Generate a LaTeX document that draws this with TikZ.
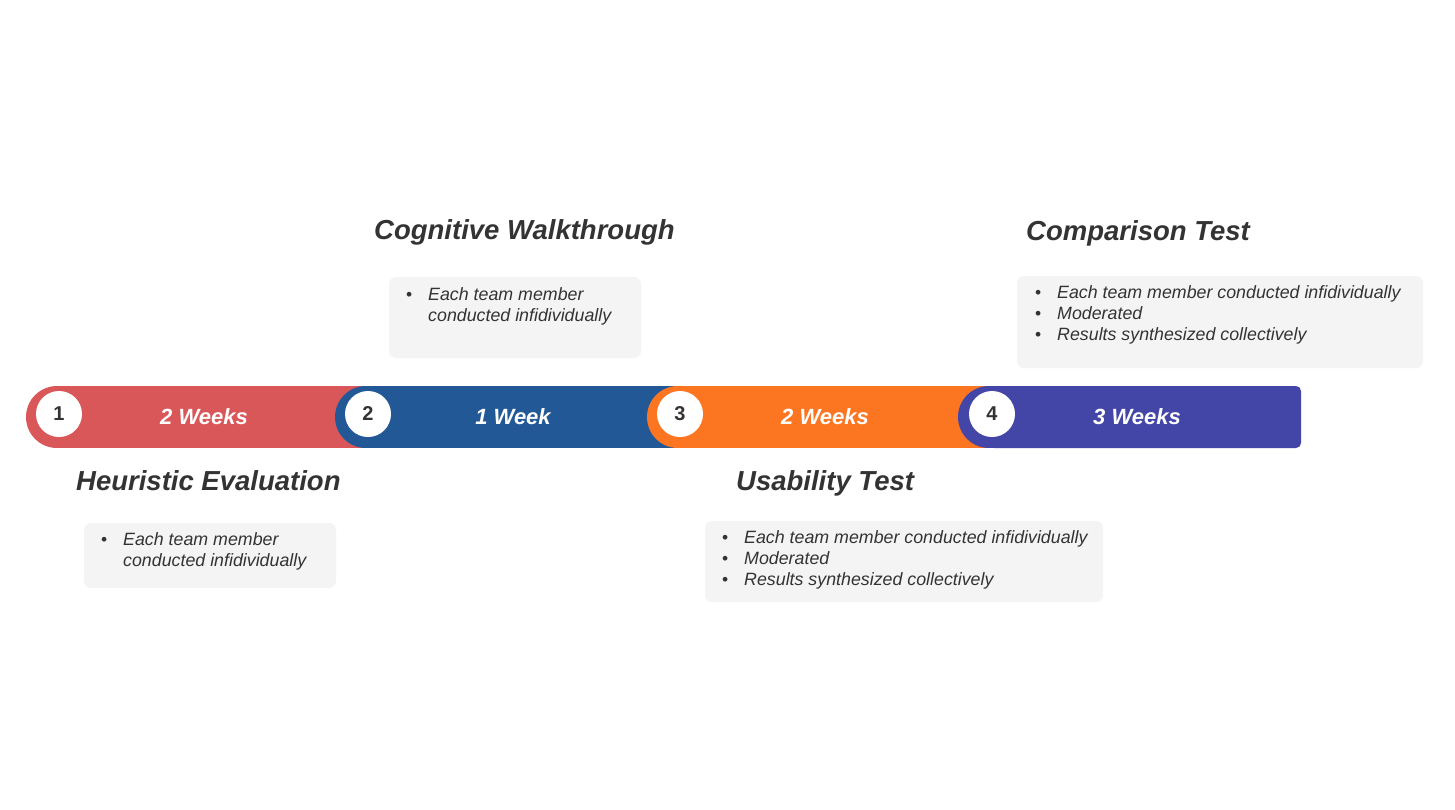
\documentclass[tikz,border=0pt]{standalone}
\usepackage{fontspec}
\setmainfont{Liberation Sans}
\begin{document}
\begin{tikzpicture}[x=1pt,y=-1pt]
\definecolor{cRed}{RGB}{217,87,89}
\definecolor{cBlue}{RGB}{35,88,150}
\definecolor{cOrange}{RGB}{252,118,33}
\definecolor{cPurple}{RGB}{67,69,167}
\definecolor{cBox}{RGB}{244,244,244}
\definecolor{cText}{RGB}{51,51,51}
\tikzset{
  numcircle/.style={circle,fill=white,minimum size=46pt,inner sep=0pt,text=cText,font=\fontsize{20}{20}\selectfont\bfseries},
  weeklabel/.style={anchor=base,text=white,inner sep=0pt,font=\fontsize{22}{22}\selectfont\bfseries\itshape},
  titlelabel/.style={anchor=base west,text=cText,inner sep=0pt,font=\fontsize{27.5}{27.5}\selectfont\bfseries\itshape},
  itemline/.style={anchor=base west,text=cText,inner sep=0pt,font=\fontsize{17.8}{21}\selectfont\itshape},
  bulletmark/.style={anchor=base west,text=cText,inner sep=0pt,font=\fontsize{17.5}{21}\selectfont},
  infobox/.style={fill=cBox,rounded corners=7pt}
}
\useasboundingbox (0,0) rectangle (1455,809);
\fill[white] (0,0) rectangle (1455,809);

% bar segments
\fill[cRed] (57,417) circle (31);
\fill[cRed] (57,386) rectangle (366,448);
\fill[cBlue] (366,417) circle (31);
\fill[cBlue] (366,386) rectangle (680,448);
\fill[cOrange] (678,417) circle (31);
\fill[cOrange] (678,386) rectangle (992,448);
\fill[cPurple] (989,417) circle (31);
\fill[cPurple,rounded corners=5pt] (989,386) rectangle (1301,448);
\fill[cPurple] (989,386) rectangle (1100,448);

% number circles
\node[numcircle] (n1) at (59,414) {1};
\node[numcircle] (n2) at (368,414) {2};
\node[numcircle] (n3) at (680,414) {3};
\node[numcircle] (n4) at (992,414) {4};

% week labels
\node[weeklabel] (w1) at (204,424) {2 Weeks};
\node[weeklabel] (w2) at (513,424) {1 Week};
\node[weeklabel] (w3) at (825,424) {2 Weeks};
\node[weeklabel] (w4) at (1137,424) {3 Weeks};

% titles
\node[titlelabel] (t2) at (374,239) {Cognitive Walkthrough};
\node[titlelabel] (t4) at (1026,240) {Comparison Test};
\node[titlelabel] (t1) at (76,490) {Heuristic Evaluation};
\node[titlelabel] (t3) at (736,490) {Usability Test};

% boxes
\fill[infobox] (389,277) rectangle (641,358);
\fill[infobox] (1017,276) rectangle (1423,368);
\fill[infobox] (84,523) rectangle (336,588);
\fill[infobox] (705,521) rectangle (1103,602);

% cognitive walkthrough items
\node[bulletmark] (b2a) at (406,300) {\textbullet};
\node[itemline] (i2a) at (428,300) {Each team member};
\node[itemline] (i2b) at (428,321) {conducted infidividually};

% comparison test items
\node[bulletmark] (b4a) at (1035,298) {\textbullet};
\node[bulletmark] (b4b) at (1035,319) {\textbullet};
\node[bulletmark] (b4c) at (1035,340) {\textbullet};
\node[itemline] (i4a) at (1057,298) {Each team member conducted infidividually};
\node[itemline] (i4b) at (1057,319) {Moderated};
\node[itemline] (i4c) at (1057,340) {Results synthesized collectively};

% heuristic evaluation items
\node[bulletmark] (b1a) at (101,545) {\textbullet};
\node[itemline] (i1a) at (123,545) {Each team member};
\node[itemline] (i1b) at (123,566) {conducted infidividually};

% usability test items
\node[bulletmark] (b3a) at (722,543) {\textbullet};
\node[bulletmark] (b3b) at (722,564) {\textbullet};
\node[bulletmark] (b3c) at (722,585) {\textbullet};
\node[itemline] (i3a) at (744,543) {Each team member conducted infidividually};
\node[itemline] (i3b) at (744,564) {Moderated};
\node[itemline] (i3c) at (744,585) {Results synthesized collectively};
\end{tikzpicture}
\end{document}
